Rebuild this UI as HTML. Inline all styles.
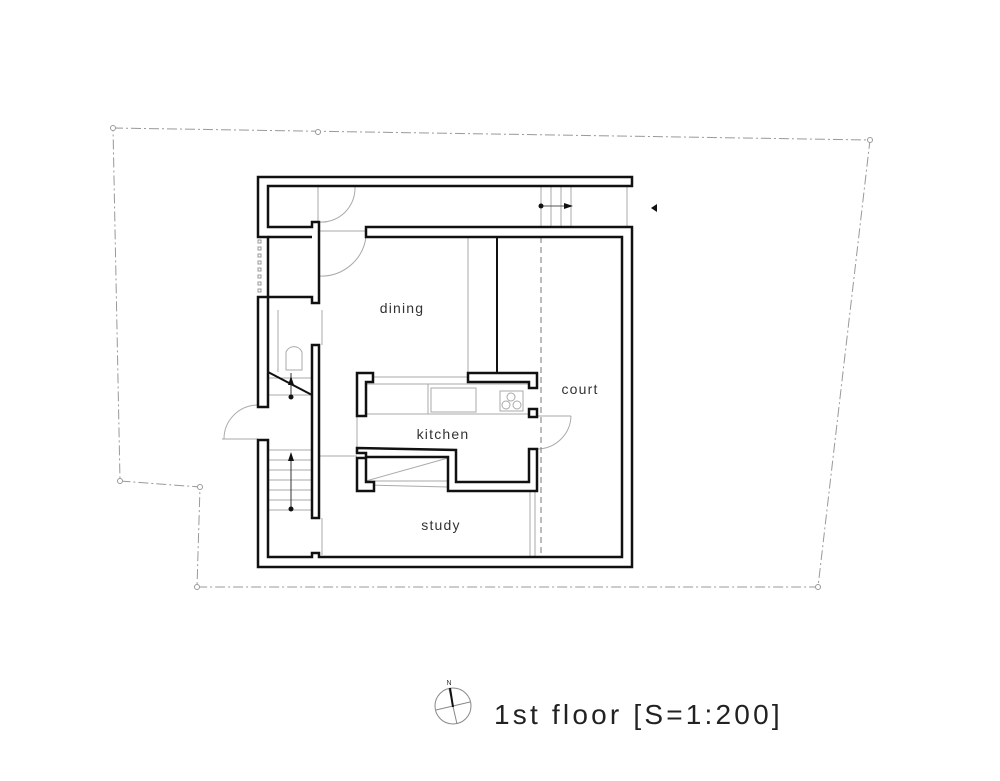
<!DOCTYPE html>
<html><head><meta charset="utf-8"><style>
html,body{margin:0;padding:0;background:#fff;}
svg{display:block;}
text{font-family:"Liberation Sans",sans-serif;fill:#333;}
</style></head><body>
<svg width="1000" height="781" viewBox="0 0 1000 781" xmlns="http://www.w3.org/2000/svg">
<polygon points="113,128 870,140 818,587 197,587 200,487 120,481" fill="none" stroke="#999" stroke-width="1" stroke-dasharray="10,3,2,3"/>
<g fill="#fff" stroke="#999" stroke-width="1">
<circle cx="113" cy="128" r="2.5"/><circle cx="318" cy="132" r="2.5"/><circle cx="870" cy="140" r="2.5"/><circle cx="818" cy="587" r="2.5"/><circle cx="197" cy="587" r="2.5"/><circle cx="200" cy="487" r="2.5"/><circle cx="120" cy="481" r="2.5"/>
</g>
<g stroke="#aaa" stroke-width="1" fill="none">
<line x1="318" y1="187" x2="318" y2="222"/>
<line x1="319" y1="231" x2="366" y2="231"/>
<path d="M318,222 A34,34 0 0 0 355,187"/>
<path d="M319,276 A45,45 0 0 0 366,237"/>
<line x1="541" y1="187" x2="541" y2="227"/><line x1="551" y1="187" x2="551" y2="227"/><line x1="561" y1="187" x2="561" y2="227"/><line x1="571" y1="187" x2="571" y2="227"/>
<line x1="627" y1="187" x2="627" y2="227"/>
<line x1="468" y1="237" x2="468" y2="373"/>
<line x1="366" y1="377" x2="468" y2="377"/>
<line x1="366" y1="384" x2="529" y2="384"/>
<line x1="366" y1="414" x2="529" y2="414"/>
<line x1="428" y1="384" x2="428" y2="414"/>
<rect x="431" y="388" width="45" height="24"/>
<rect x="500" y="391" width="23" height="20"/>
<circle cx="506" cy="405" r="4"/><circle cx="517" cy="405" r="4"/><circle cx="511" cy="397" r="4"/>
<line x1="357" y1="416" x2="357" y2="448"/>
<line x1="319" y1="456" x2="357" y2="456"/>
<line x1="366" y1="481" x2="448" y2="481"/>
<line x1="366" y1="485" x2="448" y2="487"/>
<line x1="366" y1="481" x2="448" y2="458"/>
<line x1="530" y1="491" x2="530" y2="557"/>
<line x1="535" y1="491" x2="535" y2="557"/>
<path d="M537,449 A34,34 0 0 0 571,416"/>
<line x1="537" y1="416" x2="571" y2="416"/>
<line x1="322" y1="310" x2="322" y2="345"/>
<line x1="322" y1="518" x2="322" y2="555"/>
<line x1="278" y1="310" x2="278" y2="372"/>
<path d="M286,370 L286,352 A9,10 0 0 1 302,352 L302,370 Z"/>
<line x1="268" y1="395" x2="312" y2="395"/>
<path d="M258,405 A34,34 0 0 0 224,439"/>
<line x1="222" y1="439" x2="258" y2="439"/>
<line x1="268" y1="450" x2="312" y2="450"/>
<line x1="268" y1="460" x2="312" y2="460"/><line x1="268" y1="470" x2="312" y2="470"/><line x1="268" y1="480" x2="312" y2="480"/><line x1="268" y1="490" x2="312" y2="490"/><line x1="268" y1="500" x2="312" y2="500"/><line x1="268" y1="510" x2="312" y2="510"/>
<line x1="268" y1="378" x2="312" y2="378"/>
</g>
<line x1="291" y1="460" x2="291" y2="510" stroke="#333" stroke-width="1"/>
<polygon points="291,452 288,461 294,461" fill="#111"/><circle cx="291" cy="509" r="2.5" fill="#111"/>
<line x1="291" y1="373" x2="291" y2="397" stroke="#333" stroke-width="1"/>
<polygon points="291,376 288,385 294,385" fill="#111"/><circle cx="291" cy="397" r="2.5" fill="#111"/>
<line x1="268" y1="372" x2="312" y2="395" stroke="#111" stroke-width="2"/>
<line x1="541" y1="206" x2="566" y2="206" stroke="#555" stroke-width="1"/>
<circle cx="541" cy="206" r="2.5" fill="#111"/><polygon points="573,206 564,203 564,209" fill="#111"/>
<polygon points="651,208 657,204 657,212" fill="#111"/>
<line x1="541" y1="237" x2="541" y2="557" stroke="#777" stroke-width="1" stroke-dasharray="6,4"/>
<line x1="497" y1="237" x2="497" y2="373" stroke="#111" stroke-width="2"/>
<g fill="none" stroke="#999" stroke-width="1">
<rect x="258" y="240" width="3" height="3"/><rect x="258" y="247" width="3" height="3"/><rect x="258" y="254" width="3" height="3"/><rect x="258" y="261" width="3" height="3"/><rect x="258" y="268" width="3" height="3"/><rect x="258" y="275" width="3" height="3"/><rect x="258" y="282" width="3" height="3"/><rect x="258" y="289" width="3" height="3"/>
</g>
<g fill="#fff" stroke="#111" stroke-width="2.5">
<polygon points="258,177 632,177 632,186 268,186 268,227 312,227 312,222 319,222 319,303 312,303 312,297 268,297 268,407 258,407 258,297 268,297 268,237 258,237"/>
<line x1="268" y1="237" x2="312" y2="237"/>
<polygon points="366,227 632,227 632,567 258,567 258,440 268,440 268,557 312,557 312,553 319,553 319,557 622,557 622,237 366,237"/>
<rect x="312" y="345" width="7" height="173"/>
<polygon points="357,373 373,373 373,382 366,382 366,416 357,416"/>
<polygon points="468,373 537,373 537,388 529,388 529,382 468,382"/>
<rect x="529" y="409" width="8" height="8"/>
<polygon points="357,448 456,450 456,482 529,482 529,449 537,449 537,491 448,491 448,457 366,457 366,453 357,453"/>
<polygon points="357,458 366,458 366,482 374,482 374,491 357,491"/>
</g>
<text x="402" y="313" font-size="14" text-anchor="middle" letter-spacing="1.2">dining</text>
<text x="443" y="439" font-size="14" text-anchor="middle" letter-spacing="1.2">kitchen</text>
<text x="580" y="394" font-size="14" text-anchor="middle" letter-spacing="1.2">court</text>
<text x="441" y="530" font-size="14" text-anchor="middle" letter-spacing="1.2">study</text>
<circle cx="453" cy="706" r="18" fill="none" stroke="#888" stroke-width="1"/>
<line x1="436" y1="710" x2="470" y2="702" stroke="#888" stroke-width="1"/>
<line x1="449" y1="689" x2="457" y2="724" stroke="#888" stroke-width="1"/>
<line x1="450" y1="688" x2="453" y2="707" stroke="#111" stroke-width="2"/>
<text x="449" y="685" font-size="7" text-anchor="middle">N</text>
<text x="494" y="724" font-size="28" letter-spacing="3.2" style="fill:#222">1st floor [S=1:200]</text>
</svg>
</body></html>
